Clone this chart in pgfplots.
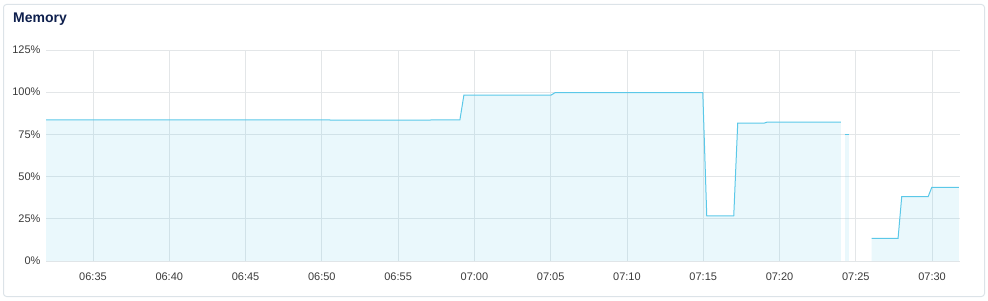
\documentclass[border=0pt]{standalone}
\usepackage{pgfplots}
\pgfplotsset{compat=1.18}
\usepackage{fontspec}
\setmainfont{Liberation Sans}
\definecolor{linec}{HTML}{5BC8E8}
\definecolor{gridc}{HTML}{E3E6E8}
\definecolor{titlec}{HTML}{0E1F4D}
\definecolor{tickc}{HTML}{3A3A3A}
\definecolor{cardc}{HTML}{DCE3E8}
\begin{document}
\begin{tikzpicture}[x=1pt,y=1pt]
\path[use as bounding box] (0,0) rectangle (988,300);
\draw[cardc, line width=1pt, rounded corners=3pt] (3.5,3.5) rectangle (984.5,295.5);
\node[anchor=base west, font=\fontsize{14}{16}\selectfont\bfseries, text=titlec, inner sep=0pt] at (13,277) {Memory};
\begin{axis}[
  at={(46pt,39pt)}, anchor=south west,
  scale only axis, width=914pt, height=211pt,
  xmin=31.92, xmax=91.83, ymin=0, ymax=125,
  xtick={35,40,45,50,55,60,65,70,75,80,85,90},
  xticklabels={06:35,06:40,06:45,06:50,06:55,07:00,07:05,07:10,07:15,07:20,07:25,07:30},
  ytick={0,25,50,75,100,125},
  yticklabels={0\%,25\%,50\%,75\%,100\%,125\%},
  major tick length=0pt,
  axis line style={draw=none},
  grid=major,
  major grid style={gridc, line width=0.8pt},
  tick label style={font=\fontsize{11}{13}\selectfont, text=tickc},
  xticklabel style={yshift=-8pt},
  yticklabel style={xshift=-2pt},
  clip=true,
]
\addplot[draw=none, fill=linec, fill opacity=0.13] table {
x y
31.92 83.6
50.5 83.6
50.6 83.4
57.0 83.4
57.2 83.6
59.05 83.6
59.31 98.2
65.01 98.2
65.3 99.8
74.97 99.8
75.23 26.8
77.00 26.8
77.26 81.7
79.00 81.7
79.20 82.3
84.02 82.3
} \closedcycle;
\addplot[linec, line width=1pt] table {
x y
31.92 83.6
50.5 83.6
50.6 83.4
57.0 83.4
57.2 83.6
59.05 83.6
59.31 98.2
65.01 98.2
65.3 99.8
74.97 99.8
75.23 26.8
77.00 26.8
77.26 81.7
79.00 81.7
79.20 82.3
84.02 82.3
};
\addplot[draw=none, fill=linec, fill opacity=0.13] table {
x y
84.28 75.2
84.54 75.2
} \closedcycle;
\addplot[linec, line width=1pt] table {
x y
84.28 75.2
84.54 75.2
};
\addplot[draw=none, fill=linec, fill opacity=0.13] table {
x y
86.03 13.4
87.77 13.4
88.01 38.1
89.74 38.1
89.98 43.6
91.75 43.6
} \closedcycle;
\addplot[linec, line width=1pt] table {
x y
86.03 13.4
87.77 13.4
88.01 38.1
89.74 38.1
89.98 43.6
91.75 43.6
};
\end{axis}
\end{tikzpicture}
\end{document}
